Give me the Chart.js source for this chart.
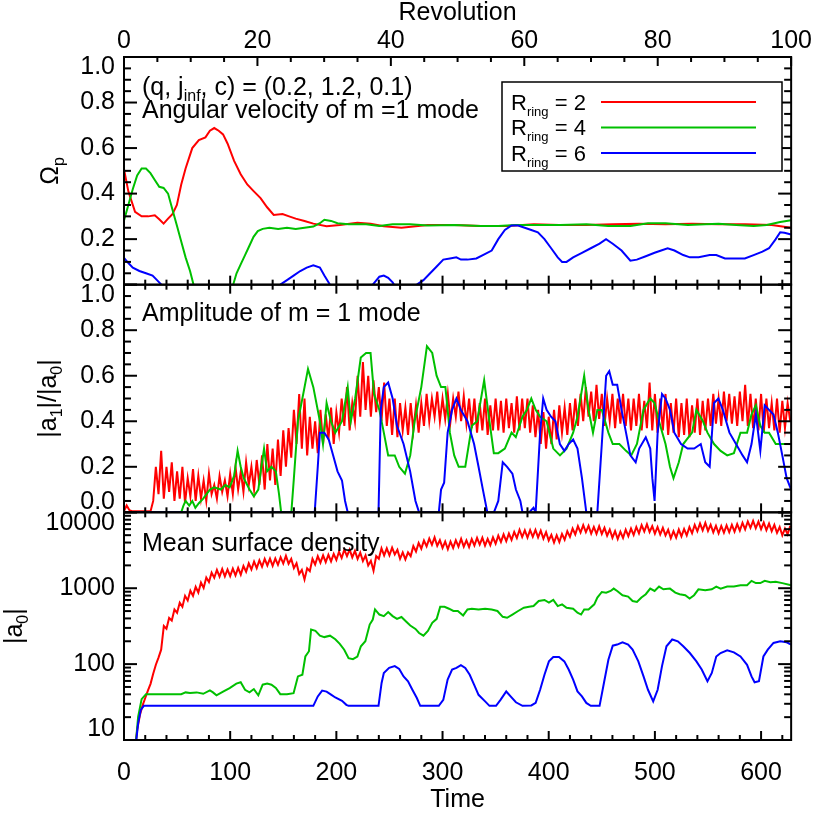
<!DOCTYPE html>
<html><head><meta charset="utf-8">
<script src="https://cdn.jsdelivr.net/npm/chart.js@4.4.1/dist/chart.umd.min.js"></script>
<style>html,body{margin:0;padding:0;background:#fff;}canvas{display:block;}</style>
</head><body>
<canvas id="c" width="813" height="813"></canvas>
<script>
// ---------------- DATA ----------------
const TMAX = 200 * Math.PI;            // 100 revolutions
const TIME_TICKS = [0,100,200,300,400,500,600];
const REV_TICKS = [0,20,40,60,80,100];
const LIN_TICKS = [0,0.2,0.4,0.6,0.8,1.0];
const LOG_TICKS = [10,100,1000,10000];
const LOG_MIN = 10, LOG_MAX = 10000;
const SERIES_LABELS = ['2','4','6'];

// Top panel: angular velocity
const omegaR2T=[0,4.1,10.4,16.6,22.8,29,33.2,37.3,41.5,45.6,49.8,53.9,58,64.3,70.5,76.7,80.9,85,89.2,93.3,97.5,103.7,109.9,116.1,122.3,128.6,134.8,141,149.3,155.5,161.7,170,178.3,190.8,203.2,219.8,232.2,244.7,261.3,286,311,336,361,386,410,435,460,485,510,535,560,585,610,628.3];
const omegaR2=[0.507,0.41,0.32,0.30,0.30,0.305,0.287,0.268,0.29,0.31,0.35,0.44,0.51,0.60,0.635,0.647,0.676,0.688,0.676,0.66,0.62,0.544,0.485,0.44,0.41,0.38,0.34,0.306,0.31,0.30,0.29,0.28,0.268,0.257,0.262,0.272,0.268,0.257,0.25,0.262,0.262,0.258,0.258,0.265,0.262,0.262,0.265,0.268,0.265,0.268,0.265,0.265,0.262,0.25];
const omegaR4T=[0,4.1,8.3,12.4,16.6,20.7,24.9,29,33.2,37.3,41.5,45.6,49.8,53.9,58,62.2,65.5,83,102.8,106,110,114,118,122,126,130.6,136.9,145.2,153.5,161.7,170,178.3,184.5,188.7,195,201.1,211.5,228,240.5,253,269.5,286,311,336,352.5,369,394,410.6,435.5,456,477,493.5,510,531,547.4,560,576.5,593,605.3,618,628.3];
const omegaR4=[0.282,0.35,0.42,0.48,0.51,0.51,0.49,0.46,0.43,0.425,0.40,0.33,0.26,0.19,0.12,0.06,0,-0.25,0,0.05,0.09,0.13,0.17,0.21,0.235,0.245,0.25,0.245,0.25,0.245,0.25,0.255,0.27,0.285,0.28,0.27,0.265,0.265,0.258,0.265,0.265,0.26,0.262,0.258,0.258,0.262,0.262,0.262,0.265,0.258,0.258,0.27,0.27,0.262,0.265,0.268,0.262,0.258,0.262,0.275,0.283];
const omegaR6T=[0,4.1,8.3,14.5,20.7,26.9,31.1,35.2,90,147.2,153.5,159.7,166,172.1,178.3,184.5,188.7,194,215,234.3,240.5,244.7,248.8,253,257,266,275.8,282,288.3,294.5,300.7,307,313,317.3,323.5,331.8,338,346.3,352.5,358.7,365,371.2,377.4,383.6,389.8,396,402.3,408.5,412.6,416.8,423,431.3,439.6,447.9,454,460.3,468.6,476.9,483,491.4,499.7,505.9,512,518.4,526.7,533,541.2,551.6,557.8,566,574.3,584.7,593,601.3,607.5,613.8,618,622,628.3];
const omegaR6=[0.118,0.095,0.075,0.06,0.05,0.04,0.02,0,-0.15,0,0.02,0.04,0.06,0.075,0.085,0.075,0.04,0,-0.05,0,0.035,0.04,0.03,0.01,-0.02,-0.03,0,0.02,0.05,0.08,0.11,0.115,0.12,0.11,0.11,0.115,0.13,0.15,0.20,0.24,0.26,0.26,0.25,0.24,0.23,0.20,0.16,0.12,0.10,0.10,0.12,0.14,0.16,0.18,0.20,0.18,0.15,0.105,0.11,0.125,0.14,0.15,0.16,0.15,0.13,0.12,0.12,0.13,0.13,0.115,0.115,0.115,0.13,0.145,0.16,0.20,0.23,0.228,0.22];

// Middle panel: amplitude |a1|/|a0|
const RED_DT = 2.5; // red series sampled every 2.5 time units from t = 0
const ampR2=[0.005,0.03,0.01,0.005,0.005,0.005,0.005,0.005,0.005,0.005,0.005,
0.05,0.2,0.08,0.27,0.06,0.2,0.09,0.22,0.05,0.18,
0.06,0.2,0.04,0.15,0.07,0.19,0.05,0.16,0.06,0.14,
0.05,0.17,0.08,0.12,0.06,0.16,0.09,0.14,0.07,0.17,
0.08,0.2,0.1,0.18,0.09,0.22,0.12,0.2,0.1,0.23,
0.12,0.25,0.1,0.3,0.14,0.28,0.12,0.32,0.16,0.36,
0.2,0.37,0.24,0.45,0.3,0.52,0.28,0.5,0.25,0.42,
0.28,0.4,0.26,0.45,0.3,0.43,0.32,0.46,0.3,0.44,
0.35,0.5,0.38,0.55,0.36,0.48,0.4,0.6,0.42,0.66,
0.45,0.6,0.42,0.58,0.44,0.55,0.4,0.57,0.38,0.5,
0.34,0.5,0.33,0.48,0.36,0.46,0.34,0.48,0.36,0.47,
0.35,0.48,0.38,0.52,0.4,0.5,0.42,0.53,0.4,0.5,
0.41,0.52,0.4,0.5,0.42,0.53,0.4,0.51,0.39,0.5,
0.37,0.5,0.35,0.48,0.36,0.5,0.34,0.47,0.36,0.5,
0.36,0.49,0.35,0.5,0.37,0.48,0.35,0.51,0.36,0.5,
0.37,0.5,0.35,0.47,0.33,0.45,0.3,0.44,0.28,0.42,
0.3,0.45,0.32,0.47,0.35,0.46,0.34,0.48,0.36,0.5,
0.38,0.52,0.4,0.55,0.42,0.53,0.4,0.56,0.41,0.52,
0.38,0.5,0.4,0.52,0.37,0.5,0.39,0.52,0.38,0.5,
0.36,0.5,0.38,0.52,0.36,0.49,0.37,0.57,0.36,0.52,
0.35,0.5,0.36,0.52,0.34,0.48,0.35,0.5,0.33,0.48,
0.34,0.5,0.33,0.47,0.35,0.5,0.34,0.49,0.36,0.5,
0.38,0.52,0.39,0.5,0.38,0.53,0.4,0.52,0.39,0.51,
0.38,0.53,0.4,0.56,0.38,0.52,0.37,0.5,0.36,0.52,
0.35,0.5,0.37,0.48,0.36,0.5,0.35,0.49,0.37,0.48,
0.4];
const ampR4T=[0,53.9,56,58,61.4,64.3,67.2,70.5,74.6,80.9,85,91.2,95.4,99.5,103.7,107,109.9,112.8,118.2,122.3,126.5,129.4,131.9,134.8,138.9,143,146,148,157.6,160,163.8,168,173.3,178.3,184.5,187.4,190.8,194.9,199,205.3,210.7,213.6,217.7,223,228,232.2,235.5,240.5,244.7,248.8,255,259.2,264.6,269.6,273.7,280,285.3,290.3,294.4,298.6,302.7,306.9,311,315.2,321.4,327.6,332.6,339.2,344.2,348.3,352.5,358.7,365,369,375.3,379.5,383.6,387.7,391.9,398,404.3,410.6,416.8,423,427.1,433.4,437.5,441.7,445.8,450,456.2,460.3,466.5,472.8,477.7,483.1,489.3,495.6,499.7,503.9,510,514.2,517.5,522.5,526.7,535,539.1,545.3,549.5,555.7,561.9,568.1,574.4,580.6,586.8,591,595.1,599.3,603.4,607.5,613.8,618,628.3];
const ampR4=[0,0,0.03,0.05,0.03,0.05,0.02,0.04,0.06,0.1,0.11,0.1,0.12,0.11,0.16,0.27,0.2,0.15,0.1,0.07,0.1,0.2,0.28,0.18,0.2,0.18,0.08,0,0,0.15,0.4,0.5,0.63,0.55,0.4,0.3,0.48,0.4,0.35,0.4,0.55,0.4,0.5,0.68,0.7,0.7,0.52,0.45,0.35,0.25,0.25,0.2,0.17,0.25,0.4,0.55,0.73,0.7,0.6,0.55,0.55,0.35,0.25,0.2,0.2,0.38,0.4,0.58,0.4,0.26,0.26,0.28,0.35,0.33,0.42,0.45,0.5,0.45,0.42,0.4,0.28,0.25,0.28,0.35,0.42,0.6,0.45,0.35,0.45,0.45,0.35,0.3,0.3,0.27,0.25,0.3,0.45,0.5,0.48,0.4,0.3,0.2,0.15,0.22,0.3,0.35,0.45,0.4,0.35,0.3,0.27,0.25,0.26,0.35,0.35,0.43,0.47,0.38,0.35,0.35,0.3,0.3,0.3];
const ampR6T=[0,179.6,182.5,184.5,188.7,192.8,197,201.1,205.3,208.2,210.7,239.7,241.8,244.7,248.8,253,257.1,263.3,269.5,274.5,277.9,296.5,298.6,301.5,304.8,309,313.1,317.3,323.5,329.7,333.9,338,342.2,348.4,352.5,356.7,360.8,365.8,369.1,373.3,375.3,381.5,385.7,387.7,391.9,394.8,398,402.2,406.3,410.5,414.7,418.8,423,427.1,431.3,435.4,445.8,450,454.1,457,460.3,464.5,468.6,472.8,476.9,481.9,485.2,491.4,495.6,497.6,499.7,502.6,506.7,510,514.2,518.3,524.6,530.8,537,543.2,547.4,551.6,555.7,559.8,564,570.2,576.4,582.6,586.8,591,595.1,599.3,603.4,607.5,611.7,615.8,620,624.1,628.3];
const ampR6=[0,0,0.2,0.35,0.35,0.32,0.25,0.18,0.14,0.05,0,0,0.45,0.55,0.57,0.5,0.38,0.3,0.18,0.05,0,0,0.1,0.13,0.35,0.45,0.5,0.45,0.4,0.3,0.2,0.1,0,0,0.05,0.22,0.2,0.17,0.1,0.05,0,0,0.02,0,0.35,0.5,0.45,0.42,0.4,0.3,0.27,0.3,0.32,0.28,0.15,0,0,0.3,0.6,0.62,0.56,0.56,0.45,0.35,0.25,0.22,0.28,0.33,0.28,0.15,0.05,0.35,0.52,0.5,0.45,0.35,0.3,0.28,0.28,0.3,0.22,0.2,0.48,0.5,0.45,0.35,0.3,0.25,0.22,0.3,0.43,0.27,0.47,0.45,0.43,0.35,0.25,0.15,0.1];

// Bottom panel: mean surface density |a0|
const densR2=[5,5,5,5,7,13.8,21.3,28.6,35.8,44.8,54.9,74.5,98,122,155,
318,292,406,375,526,474,643,568,794,690,
926,794,1042,877,1190,1009,1380,1205,1606,1372,
1741,1421,1787,1430,1764,1445,1818,1477,1858,1509,
1960,1652,2122,1764,2247,1841,2332,1921,2435,1997,
2457,1974,2465,2036,2565,2114,2665,2106,2435,1841,
2139,1542,1747,1307,1827,1680,2435,2053,2649,2169,
2714,2208,2759,2255,2834,2362,3022,2503,3220,2649,
3228,2549,3099,2435,2948,2277,2706,1997,2294,1697,
2649,2444,3357,2706,3357,2719,3417,2789,3204,2444,
2969,2397,2969,2649,3584,3050,3954,3321,4256,3560,
4500,3727,4669,3632,4290,3397,4126,3260,4126,3397,
4290,3528,4460,3528,4266,3476,4429,3659,4606,3762,
4622,3643,4476,3695,4679,3861,4925,4076,5123,4182,
5250,4337,5509,4596,5890,4726,5782,4645,5836,4765,
5875,4679,5727,4510,5486,4256,5053,3994,4989,4052,
5195,4361,5634,4749,6129,5125,6582,5415,6764,5493,
6658,5235,6413,5219,6566,5195,6252,4925,5929,4630,
5649,4458,5548,4614,5913,4853,6114,5028,6413,5298,
6779,5595,6984,5501,6582,5235,6413,5108,6252,4974,
5890,4557,5649,4653,5929,4814,6029,4974,6375,5298,
6817,5626,7120,5790,7249,5689,6863,5447,6658,5298,
6612,5384,6718,5462,6833,5572,7007,5743,7287,5975,
7577,6245,7734,6168,7562,6014,7338,5820,7120,5658,
6848,5368,6413,4974,6099,5140,6658];
const densR4T=[0,10.4,13.3,16.6,20.7,53.9,58,62.2,68.4,74.6,80.9,83.8,87.1,93.3,99.5,105.8,109.9,114,118.2,122.3,126.5,130.6,134.8,138.9,143,147.2,153.5,159.7,163.8,168,170.8,174.2,176.2,180.3,184.5,188.7,194,199,203.2,207.4,211.5,215.6,219.8,223.1,227.3,231.4,234.3,236.4,240.5,244.7,248.8,253,257.1,261.3,265.4,269.6,274.5,277.9,282,286.2,290.3,294.5,297.8,301.9,306.1,310.2,314.4,319.4,323.5,327.6,333.9,340.1,346.3,351.7,356.7,360.8,365.8,371.2,376.6,381.5,385.7,390.6,396,400.2,404.3,408.5,412.6,416.8,423,427.1,430.5,433.4,437.5,442.9,445.8,450,454.1,458.3,461.2,464.5,469.5,474.8,479,483.1,487.3,491.4,495.6,499.7,503.9,508,514.2,519.2,523.3,528.6,532.7,536.9,541,547.4,553.6,557.8,561.9,568.1,574.4,580.6,586.8,591,595.1,599.3,603.4,608.8,613.8,620,628.3];
const densR4=[5,7,20.2,34.6,40.2,40.2,42.4,41.6,42.4,40.6,
45,42.4,38.8,43.4,48.4,55.3,57.6,45.9,42.4,46.9,
38.8,53.6,55.3,53.6,48.4,40.2,40.2,41.4,68.9,72.4,
126,148,286,274,237,227,237,213,185,155,
120,116,126,172,200,332,387,525,450,429,
485,429,395,418,367,323,291,257,237,274,
350,395,570,570,537,501,501,438,525,537,
525,537,525,501,420,408,450,501,553,570,
582,679,701,645,701,582,613,553,537,475,
450,525,525,613,754,893,875,920,989,920,
809,777,679,658,754,834,989,920,1052,968,
989,875,834,809,731,809,968,943,968,1052,
989,1052,1052,1096,1096,1250,1168,1168,1250,1197,
1220,1168,1096];
const densR6T=[0,10.4,13.3,15.8,18.7,178.3,182.5,186.6,190.8,195,199,205.3,209.4,211.5,239.7,242.6,244.7,249.7,255,259.2,263.3,267.5,271.6,275.8,279,296.5,300.7,304.8,309,313.1,317.3,321.4,325.6,329.7,333.9,340.1,344.2,350.4,354.6,360,364.1,369.1,375.3,383.6,387.7,391.9,396,400.2,404.3,409.7,414.7,418.8,423,427.1,431.3,435.4,439.6,447.9,452,456.2,460.3,464.5,469.5,474.8,479,484.4,489.3,493.5,498.4,502.6,506.7,510.9,516.3,521.6,526.7,532.9,539.1,544.1,549.5,553.6,557.8,561.9,568.1,574.4,580.6,586.8,591,593.9,598,602.2,606.3,611.7,618,624.1,628.3];
const densR6=[5,7,16.6,25,28.2,28.2,37.5,44.8,43.4,39.7,
36.3,32.8,29.1,28.2,28.2,56.4,76.5,89.2,94.1,86.3,
68.9,59.4,45.9,35.7,28.2,28.2,33.8,62.4,84.8,89.2,
97,89.2,72.4,53.6,39.4,32.3,28.2,28.2,33.8,43.6,
37.5,31.4,28.2,28.5,30.8,45.9,72.4,108.6,124,124,
108.6,84.8,62.4,43.6,37.5,30.8,28.2,28.2,56.4,114.3,
175,181,194,181,155,108.6,68.9,45.9,32.3,45.9,
94.1,172,211,200,172,140,108.6,84.8,59.4,76.5,
126,140,152,143,126,98,68.9,57.6,59.4,126,
155,190,200,194,181];

// ---------------- STYLE ----------------
const FONT = "'Liberation Sans', Arial, Helvetica, sans-serif";
const FS = 25, SUBFS = 16, SUBDY = 6;
const LEG_FS = 22, LEG_SUBFS = 13, LEG_SUBDY = 6;
const COLORS = ['#ff0000', '#00c000', '#0000ff'];
const LW = 2;

function pairs(T, V) { return V.map((v, i) => ({x: T[i], y: v})); }
function gridPairs(V, dt) { return V.map((v, i) => ({x: i * dt, y: v})); }

Chart.defaults.font.family = FONT;
Chart.defaults.font.size = FS;
Chart.defaults.color = '#000';

function ds(data, color, yID, order) {
  return {data, borderColor: color, backgroundColor: color, borderWidth: LW, yAxisID: yID, xAxisID: 'x',
          pointRadius: 0, tension: 0, fill: false, order};
}

const datasets = [
  ds(pairs(omegaR2T, omegaR2), COLORS[0], 'yTop', 3),
  ds(pairs(omegaR4T, omegaR4), COLORS[1], 'yTop', 2),
  ds(pairs(omegaR6T, omegaR6), COLORS[2], 'yTop', 1),
  ds(gridPairs(ampR2, RED_DT), COLORS[0], 'yMid', 3),
  ds(pairs(ampR4T, ampR4), COLORS[1], 'yMid', 2),
  ds(pairs(ampR6T, ampR6), COLORS[2], 'yMid', 1),
  ds(gridPairs(densR2, RED_DT), COLORS[0], 'yBot', 3),
  ds(pairs(densR4T, densR4), COLORS[1], 'yBot', 2),
  ds(pairs(densR6T, densR6), COLORS[2], 'yBot', 1)
];

function rich(ctx, parts, x, y, align, fs, sfs, sdy) {
  fs = fs || FS; sfs = sfs || SUBFS; sdy = sdy || SUBDY;
  let w = 0;
  for (const p of parts) { ctx.font = (p.s ? sfs : fs) + 'px ' + FONT; w += ctx.measureText(p.t).width; }
  let cx = align === 'center' ? x - w / 2 : (align === 'right' ? x - w : x);
  ctx.textAlign = 'left'; ctx.textBaseline = 'alphabetic';
  for (const p of parts) {
    ctx.font = (p.s ? sfs : fs) + 'px ' + FONT;
    ctx.fillText(p.t, cx, y + (p.s ? sdy : 0));
    cx += ctx.measureText(p.t).width;
  }
}

// end labels of each panel are pushed inside the panel (extra empty line)
function endLabel(text, i, n) {
  if (i === n - 1) return ['', text];
  if (i === 0) return [text, ''];
  return text;
}

const framePlugin = {
  id: 'frame',
  beforeDatasetDraw(chart, args) {
    const d = chart.data.datasets[args.index];
    const s = chart.scales[d.yAxisID], ca = chart.chartArea, ctx = chart.ctx;
    ctx.save(); ctx.beginPath(); ctx.rect(ca.left, s.top, ca.right - ca.left, s.bottom - s.top); ctx.clip();
  },
  afterDatasetDraw(chart) { chart.ctx.restore(); },
  afterDraw(chart) {
    const ctx = chart.ctx, ca = chart.chartArea, X = chart.scales.x, X2 = chart.scales.x2;
    const L = ca.left, R = ca.right;
    ctx.save();
    ctx.strokeStyle = '#000'; ctx.lineWidth = 2; ctx.fillStyle = '#000';
    const YMAJ = 13, YMIN = 7, XMAJ = 9, XMIN = 5;
    const line = (x1, y1, x2, y2) => { ctx.beginPath(); ctx.moveTo(x1, y1); ctx.lineTo(x2, y2); ctx.stroke(); };
    const panels = ['yTop', 'yMid', 'yBot'];
    panels.forEach((id, k) => {
      const s = chart.scales[id];
      const T = s.top, B = s.bottom;
      ctx.strokeRect(L, T, R - L, B - T);
      let ticks = [];
      if (id === 'yBot') {
        for (let dec = 10; dec <= 10000; dec *= 10) for (let m = 1; m <= 9; m++) {
          const v = m * dec; if (v >= LOG_MIN && v <= LOG_MAX) ticks.push([v, m === 1]);
        }
      } else {
        for (let i = 0; i <= 20; i++) ticks.push([i * 0.05, i % 4 === 0]);
      }
      for (const [v, maj] of ticks) {
        const y = s.getPixelForValue(v); const len = maj ? YMAJ : YMIN;
        line(L, y, L + len, y); line(R - len, y, R, y);
      }
      for (let t = 0; t <= TMAX; t += 20) {
        const x = X.getPixelForValue(t); const len = (t % 100 === 0) ? XMAJ : XMIN;
        line(x, B, x, B - len);
        if (k > 0) line(x, T, x, T + len);
      }
      if (k === 0) {
        for (let r = 0; r <= 100; r += 5) {
          const x = X2.getPixelForValue(r); const len = (r % 20 === 0) ? XMAJ : XMIN;
          line(x, T, x, T + len);
        }
      }
    });
    rich(ctx, [{t: '(q, j'}, {t: 'inf', s: 1}, {t: ', c) = (0.2, 1.2, 0.1)'}], 142, 95, 'left');
    rich(ctx, [{t: 'Angular velocity of m =1 mode'}], 142, 118, 'left');
    rich(ctx, [{t: 'Amplitude of m = 1 mode'}], 142, 321, 'left');
    rich(ctx, [{t: 'Mean surface density'}], 142, 551, 'left');
    const yTitles = [
      ['yTop', [{t: 'Ω'}, {t: 'p', s: 1}], 58],
      ['yMid', [{t: '|a'}, {t: '1', s: 1}, {t: '|/|a'}, {t: '0', s: 1}, {t: '|'}], 56],
      ['yBot', [{t: '|a'}, {t: '0', s: 1}, {t: '|'}], 22]
    ];
    for (const [id, parts, bx] of yTitles) {
      const s = chart.scales[id];
      ctx.save(); ctx.translate(bx, (s.top + s.bottom) / 2); ctx.rotate(-Math.PI / 2);
      rich(ctx, parts, 0, 0, 'center'); ctx.restore();
    }
    // legend
    ctx.lineWidth = 1.5;
    ctx.fillStyle = '#fff';
    ctx.fillRect(502, 82, 280, 89);
    ctx.strokeStyle = '#000';
    ctx.strokeRect(502, 82, 280, 89);
    ctx.fillStyle = '#000';
    SERIES_LABELS.forEach((lab, i) => {
      const y = 102 + i * 25.5;
      rich(ctx, [{t: 'R'}, {t: 'ring', s: 1}, {t: ' = ' + lab}], 511, y + 7.5, 'left', LEG_FS, LEG_SUBFS, LEG_SUBDY);
      ctx.strokeStyle = COLORS[i]; ctx.lineWidth = 2;
      line(601, y, 756, y);
    });
    ctx.restore();
  }
};

const yTicks = {padding: 9, autoSkip: false, font: {lineHeight: 0.84}};

new Chart(document.getElementById('c'), {
  type: 'line',
  data: {datasets},
  options: {
    responsive: false, animation: false, devicePixelRatio: 1,
    layout: {padding: {left: 0, right: 16, top: 0, bottom: 0}},
    plugins: {legend: {display: false}, tooltip: {enabled: false}},
    scales: {
      x: {type: 'linear', position: 'bottom', min: 0, max: TMAX,
          grid: {display: false, drawTicks: false}, border: {display: false},
          ticks: {padding: 18, maxRotation: 0, autoSkip: false},
          afterBuildTicks: s => { s.ticks = TIME_TICKS.map(v => ({value: v})); },
          title: {display: true, text: 'Time', padding: {top: 0, bottom: -2}},
          afterFit: s => { s.height = 73; }},
      x2: {type: 'linear', position: 'top', min: 0, max: 100,
          grid: {display: false, drawTicks: false}, border: {display: false},
          ticks: {padding: 1, maxRotation: 0, autoSkip: false},
          afterBuildTicks: s => { s.ticks = REV_TICKS.map(v => ({value: v})); },
          title: {display: true, text: 'Revolution', padding: {top: -2, bottom: 0}},
          afterFit: s => { s.height = 57; }},
      yTop: {type: 'linear', position: 'left', stack: 'panels', weight: 3, min: 0, max: 1,
          grid: {display: false, drawTicks: false}, border: {display: false},
          afterBuildTicks: s => { s.ticks = LIN_TICKS.map(v => ({value: v})); },
          ticks: {...yTicks, callback: (v, i, t) => endLabel(v.toFixed(1), i, t.length)},
          afterFit: s => { s.width = 124; }},
      yMid: {type: 'linear', position: 'left', stack: 'panels', weight: 2, min: 0, max: 1,
          grid: {display: false, drawTicks: false}, border: {display: false},
          afterBuildTicks: s => { s.ticks = LIN_TICKS.map(v => ({value: v})); },
          ticks: {...yTicks, callback: (v, i, t) => endLabel(v.toFixed(1), i, t.length)},
          afterFit: s => { s.width = 124; }},
      yBot: {type: 'logarithmic', position: 'left', stack: 'panels', weight: 1, min: LOG_MIN, max: LOG_MAX,
          grid: {display: false, drawTicks: false}, border: {display: false},
          afterBuildTicks: s => { s.ticks = LOG_TICKS.map(v => ({value: v})); },
          ticks: {...yTicks, callback: (v, i, t) => endLabel(String(v), i, t.length)},
          afterFit: s => { s.width = 124; }}
    }
  },
  plugins: [framePlugin]
});
</script>
</body></html>
